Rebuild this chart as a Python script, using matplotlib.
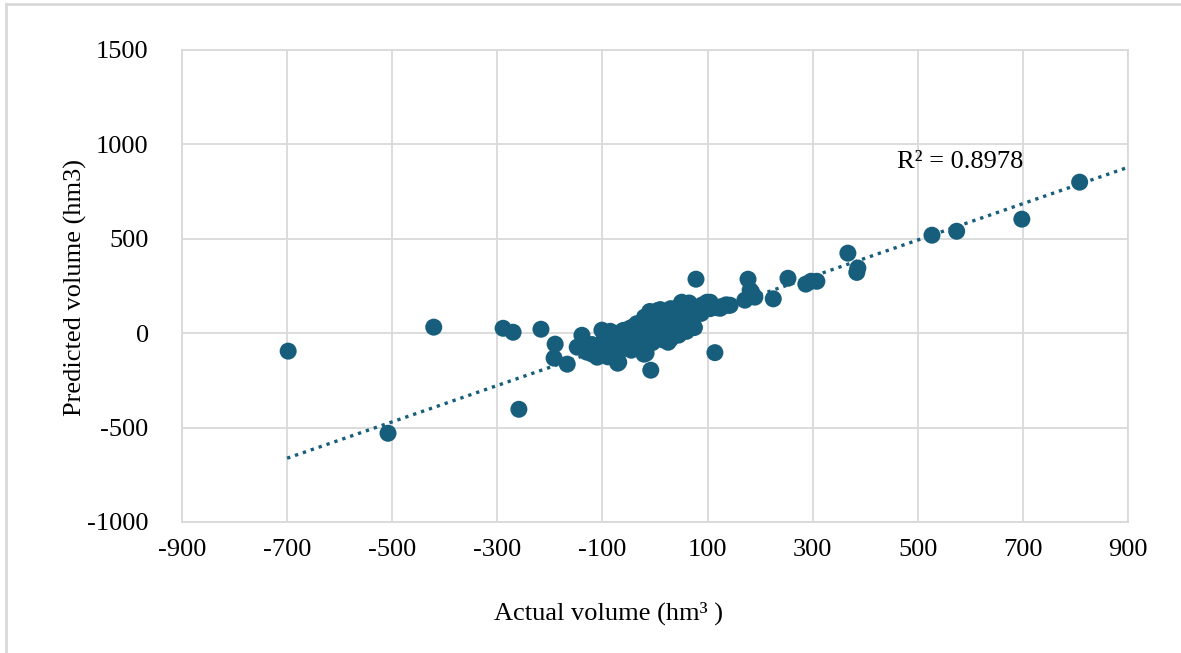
import numpy as np
from matplotlib import pyplot as plt
from matplotlib.lines import Line2D

# Actual vs predicted volume (hm3)
actual = [
    -698, -508, -421, -289, -270, -259, -217, -190, -192, -167, -139, -148,
    -101, -69, -21, -8, 78, 114, 177, 184, 190, 171, 225, 139, 99, 51, 4,
    47, 25, -110, -71, -17, 253, 287, 297, 308, 367, 386, 384, 527, 574,
    698, 808, 143, 124, 105, 181,
    -130, -125, -120, -115, -110, -108, -105, -100, -98, -95, -92, -90, -88,
    -85, -82, -80, -78, -75, -72, -70, -68, -65, -62, -60, -58, -55, -52,
    -50, -48, -45, -42, -40, -38, -35, -32, -30, -28, -25, -22, -20, -18,
    -15, -12, -10, -8, -5, -2, 0, 2, 5, 8, 10, 12, 15, 18, 20, 22, 25, 28,
    30, 32, 35, 38, 40, 42, 45, 48, 50, 52, 55, 58, 60, 62, 65, 68, 70, 72,
    75, 78, 82, 85, 88, 92, 96, 100, 105, 110, 118, 125, 135,
    -120, -90, -75, -60, -45, -35, -20, -5, 5, 15, 30, 45, 60, 75, 90, 10,
    -10, 55, 65, -85,
]
predicted = [
    -95, -530, 32, 26, 5, -403, 21, -58, -132, -164, -11, -74,
    16, -154, -111, -196, 286, -103, 286, 217, 191, 175, 182, 148, 164, 164, 111,
    0, -48, -127, -159, -106, 291, 260, 275, 275, 424, 345, 322, 519, 540,
    604, 800, 148, 132, 164, 228,
    -100, -85, -110, -95, -70, -120, -60, -90, -40, -110, -75, -20, -55,
    -95, -30, -70, -10, -50, -85, 0, -35, -65, 10, -20, -50, -80, 20,
    -10, -40, 30, 0, -60, 15, -25, 40, 5, -30, 50, 20, -10, 60,
    30, -5, 80, 45, 10, 100, 60, 25, 120, 80, 40, -20, 100, 60, 20, 110, 75, 40,
    -30, 95, 55, 15, 120, 80, 40, 100, 160, 60, 20, 110, 75, 140, 95, 50, 120, 85,
    130, 100, 120, 140, 105, 125, 135, 150, 130, 140, 135, 140, 150,
    -60, -125, -110, 15, -90, 50, 85, -50, 95, -35, 130, -10, 10, 30, 150, 125,
    115, 150, 160, 10,
]

# linear trend line as shown on the chart
trend_slope = 0.963
trend_intercept = 12
trend_x = [-700, 900]
r2_label = "R\u00b2 = 0.8978"

x_ticks = np.arange(-900, 901, 200)
y_ticks = np.arange(-1000, 1501, 500)

plt.rcParams['font.family'] = ['Liberation Serif', 'DejaVu Serif']
plt.rcParams['axes.unicode_minus'] = False
dot_color = '#175E7D'
grid_color = '#D9D9D9'

fig = plt.figure(figsize=(11.81, 6.53), dpi=100)
ax = fig.add_axes([182 / 1181, 1 - 522 / 653, 946 / 1181, 472 / 653])

ax.scatter(actual, predicted, s=150, color=dot_color, edgecolors='none', zorder=3)

tx = np.array(trend_x, dtype=float)
ax.plot(tx, trend_slope * tx + trend_intercept, color=dot_color,
        linestyle=(0, (1, 1.5)), linewidth=2.4, zorder=2)

ax.text(460, 906, r2_label, ha='left', va='center', fontsize=19)

ax.set_xlim(-900, 900)
ax.set_ylim(-1000, 1500)
ax.set_xticks(x_ticks)
ax.set_yticks(y_ticks)
ax.grid(True, color=grid_color, linewidth=1.3)
ax.set_axisbelow(True)
for s in ax.spines.values():
    s.set_color(grid_color)
    s.set_linewidth(1.3)
ax.tick_params(length=0, labelsize=19, pad=12)
ax.tick_params(axis='y', pad=24)

fig.text(609 / 1181, 1 - 613 / 653, "Actual volume (hm\u00b3 )", ha='center', va='center', fontsize=19)
fig.text(75 / 1181, 1 - 288 / 653, "Predicted volume (hm3)", ha='center', va='center',
         rotation=90, fontsize=19)

# outer chart frame (only top and left edges visible)
fig.add_artist(Line2D([6 / 1181, 1], [1 - 4 / 653, 1 - 4 / 653], color=grid_color, linewidth=2))
fig.add_artist(Line2D([6 / 1181, 6 / 1181], [0, 1 - 4 / 653], color=grid_color, linewidth=2))

fig.savefig('out.png', dpi=100)
